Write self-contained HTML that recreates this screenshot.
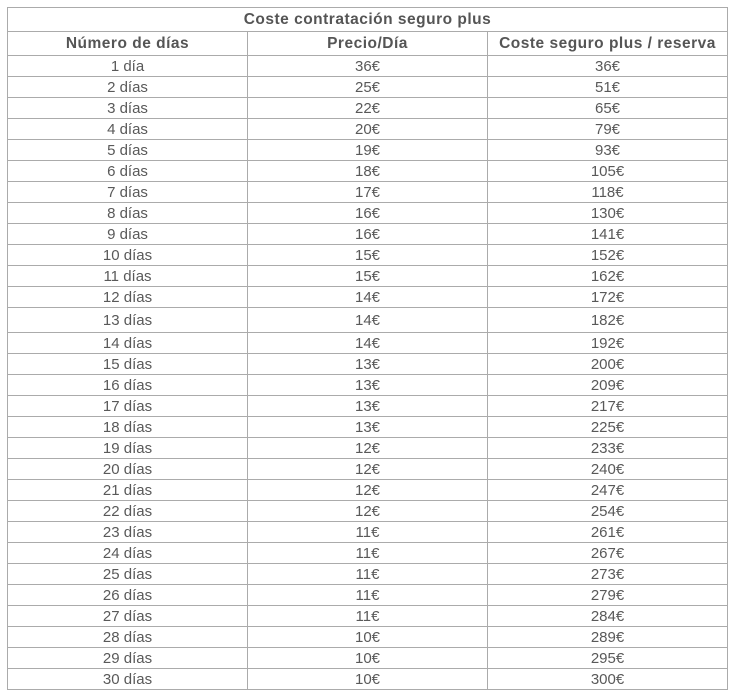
<!DOCTYPE html>
<html><head><meta charset="utf-8"><style>
html,body{margin:0;padding:0;background:#fff;width:736px;height:697px;overflow:hidden}
table{position:absolute;left:7px;top:7px;border-collapse:collapse;font-family:"Liberation Sans",sans-serif;font-size:15px;color:#595959;table-layout:fixed}
td,th{border:1px solid #ababab;text-align:center;padding:0;line-height:15px}
th{font-weight:bold;color:#555;font-size:15.5px;letter-spacing:0.5px}
</style></head><body>
<table>
<colgroup><col style="width:240px"><col style="width:240px"><col style="width:240px"></colgroup>
<thead>
<tr style="height:24px"><th colspan="3">Coste contratación seguro plus</th></tr>
<tr style="height:24px"><th>Número de días</th><th>Precio/Día</th><th>Coste seguro plus / reserva</th></tr>
</thead>
<tbody id="tb"></tbody>
</table>
<script>
const days=[1,2,3,4,5,6,7,8,9,10,11,12,13,14,15,16,17,18,19,20,21,22,23,24,25,26,27,28,29,30];
const pricePerDay=[36,25,22,20,19,18,17,16,16,15,15,14,14,14,13,13,13,13,12,12,12,12,11,11,11,11,11,10,10,10];
const totalCost=[36,51,65,79,93,105,118,130,141,152,162,172,182,192,200,209,217,225,233,240,247,254,261,267,273,279,284,289,295,300];
const tb=document.getElementById('tb');
days.forEach((d,i)=>{
  const tr=document.createElement('tr');
  tr.style.height=(i===12?25:21)+'px';
  
  
  const vals=[d+(d===1?' día':' días'),pricePerDay[i]+'€',totalCost[i]+'€'];
  const names=['days-cell','price-cell','total-cell'];
  vals.forEach((v,j)=>{
    const td=document.createElement('td');
    td.textContent=v;
    
    
    tr.appendChild(td);
  });
  tb.appendChild(tr);
});
</script>
</body></html>
